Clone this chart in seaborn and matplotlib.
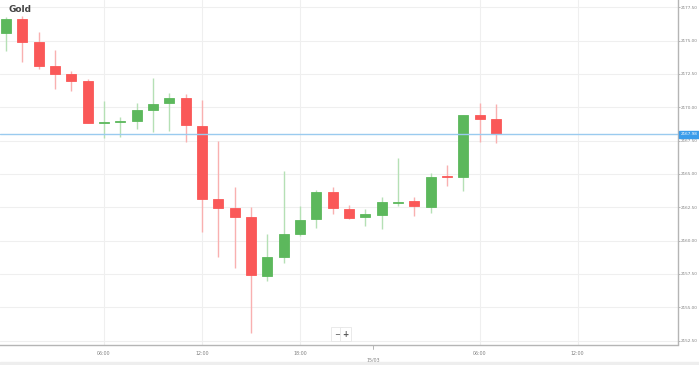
import numpy as np
import pandas as pd
import matplotlib
matplotlib.use("Agg")
import matplotlib.pyplot as plt
import seaborn as sns

# hourly candles, 14/03 00:00 .. 15/03 07:00 (no 23:00 candle)
opens  = [2175.57, 2176.60, 2174.92, 2173.12, 2172.50, 2171.95, 2168.80, 2168.89,
          2168.97, 2169.77, 2170.30, 2170.72, 2168.62, 2163.10, 2162.47, 2161.77,
          2157.37, 2158.77, 2160.47, 2161.60, 2163.67, 2162.35, 2161.75, 2161.92,
          2162.85, 2162.97, 2162.54, 2164.87, 2164.75, 2169.42, 2169.10]
closes = [2176.60, 2174.92, 2173.12, 2172.50, 2171.95, 2168.80, 2168.88, 2168.95,
          2169.80, 2170.27, 2170.72, 2168.67, 2163.10, 2162.42, 2161.77, 2157.42,
          2158.79, 2160.47, 2161.54, 2163.67, 2162.42, 2161.67, 2161.97, 2162.87,
          2162.92, 2162.59, 2164.79, 2164.77, 2169.42, 2169.10, 2167.98]
highs  = [2176.79, 2176.85, 2175.67, 2174.30, 2172.72, 2172.14, 2170.47, 2169.29,
          2170.30, 2172.17, 2171.09, 2170.99, 2170.55, 2167.47, 2164.04, 2162.50,
          2160.50, 2165.24, 2162.59, 2163.80, 2164.04, 2162.65, 2162.35, 2163.29,
          2166.17, 2163.25, 2165.05, 2165.67, 2169.45, 2170.30, 2170.22]
lows   = [2174.22, 2173.42, 2172.85, 2171.37, 2171.24, 2168.80, 2167.67, 2167.75,
          2168.37, 2168.17, 2168.24, 2167.42, 2160.67, 2158.79, 2157.92, 2153.04,
          2156.97, 2158.34, 2160.35, 2160.92, 2161.97, 2161.65, 2161.12, 2160.85,
          2162.62, 2161.84, 2162.05, 2164.09, 2163.74, 2167.42, 2167.34]

tick_pos = [6, 12, 18, 29, 35]
tick_labels = ["06:00", "12:00", "18:00", "06:00", "12:00"]
day_pos = 22.5
day_label = "15/03"
last_price = 2167.98
y_ticks = [2152.5, 2155.0, 2157.5, 2160.0, 2162.5, 2165.0, 2167.5, 2170.0, 2172.5, 2175.0, 2177.5]

df = pd.DataFrame({"open": opens, "close": closes, "high": highs, "low": lows})
df["idx"] = np.arange(len(df))
df["up"] = df["close"] >= df["open"]

sns.set_style("white")
plt.rcParams["font.family"] = ["DejaVu Sans"]

fig = plt.figure(figsize=(6.99, 3.65), dpi=100)
ax = fig.add_axes([0.0, 1 - 344.5 / 365, 678 / 699, 344.5 / 365])

green, red = "#5cb85c", "#fa5858"
green_w, red_w = "#b5e0b5", "#f9b0b0"

for _, r in df.iterrows():
    c = green if r["up"] else red
    cw = green_w if r["up"] else red_w
    ax.vlines(r["idx"], r["low"], r["high"], color=cw, lw=1.0, zorder=2)
    lo = min(r["open"], r["close"])
    h = max(abs(r["close"] - r["open"]), 0.08)
    ax.bar(r["idx"], h, bottom=lo, width=0.62, color=c, edgecolor=c, lw=0.6, zorder=3)

ax.axhline(last_price, color="#9acbef", lw=1.0, zorder=4)

ax.set_xlim(-0.37, 41.15)
ax.set_ylim(2152.21, 2178.05)

ax.set_yticks(y_ticks)
ax.set_yticklabels([f"{v:.2f}" for v in y_ticks])
ax.yaxis.tick_right()
ax.set_xticks(tick_pos)
ax.set_xticklabels(tick_labels)
ax.tick_params(axis="both", colors="#999999", length=1.5, width=0.5,
               labelcolor="#808080")
ax.tick_params(axis="y", labelsize=3.0, pad=0.8)
ax.tick_params(axis="x", labelsize=3.4, pad=3.5)

ax.grid(True, color="#efefef", lw=0.8)
ax.set_axisbelow(True)
for s in ["left", "top"]:
    ax.spines[s].set_visible(False)
for s in ["right", "bottom"]:
    ax.spines[s].set_color("#b5b5b5")
    ax.spines[s].set_linewidth(1.0)

# day separator
ax.plot([day_pos, day_pos], [0, -0.012], transform=ax.get_xaxis_transform(),
        color="#aaaaaa", lw=0.6, clip_on=False)
ax.text(day_pos, -0.037, day_label, transform=ax.get_xaxis_transform(),
        ha="center", va="top", fontsize=3.4, color="#808080")

# last price tag
ax.text(1.004, last_price, f"{last_price:.2f}", transform=ax.get_yaxis_transform(),
        ha="left", va="center", fontsize=3.0, color="white", zorder=6,
        bbox=dict(boxstyle="square,pad=0.3", fc="#3b9cea", ec="#3b9cea"))

ax.text(0.012, 0.985, "Gold", transform=ax.transAxes, ha="left", va="top",
        fontsize=6.5, fontweight="bold", color="#444444", zorder=6)

# zoom buttons
ax.text(0.497, 0.03, "\u2212", transform=ax.transAxes, ha="center", va="center",
        fontsize=5.5, color="#555555",
        bbox=dict(boxstyle="square,pad=0.3", fc="white", ec="#e6e6e6", lw=0.6))
ax.text(0.51, 0.03, "+", transform=ax.transAxes, ha="center", va="center",
        fontsize=5.5, fontweight="bold", color="#555555",
        bbox=dict(boxstyle="square,pad=0.3", fc="white", ec="#e6e6e6", lw=0.6))

fig.patches.append(plt.Rectangle((0, 0), 1, 3 / 365, transform=fig.transFigure,
                                 color="#eeeeee", zorder=0))

fig.savefig("out.png", dpi=100)
